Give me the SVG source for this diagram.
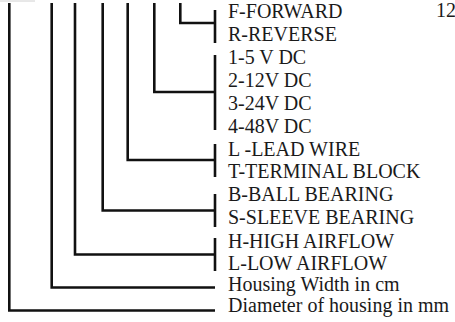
<svg xmlns="http://www.w3.org/2000/svg" width="455" height="322" viewBox="0 0 455 322">
<style>
.ln{fill:none;stroke:#111;stroke-width:2.6;stroke-linejoin:miter;stroke-linecap:butt}
.t{font-family:"Liberation Serif","Times New Roman",serif;font-size:20px;fill:#1a1a1a}
</style>
<rect width="455" height="322" fill="#fff"/>
<line x1="0" y1="1" x2="35" y2="1" stroke="#d0d0d0" stroke-width="1"/>
<g id="connectors" class="ln">
<polyline points="180.3,3 180.3,23 215,23"/>
<line x1="215" y1="10" x2="215" y2="43"/>
<polyline points="154.3,3 154.3,92 215,92"/>
<line x1="215" y1="55" x2="215" y2="130"/>
<polyline points="127.7,3 127.7,160 215,160"/>
<line x1="215" y1="144" x2="215" y2="177"/>
<polyline points="102.7,3 102.7,210.5 215,210.5"/>
<line x1="215" y1="194" x2="215" y2="227"/>
<polyline points="75,3 75,254.5 215,254.5"/>
<line x1="215" y1="238" x2="215" y2="271"/>
<polyline points="51.7,3 51.7,287.5 215,287.5"/>
<polyline points="9.3,3 9.3,310.5 215,310.5"/>
</g>
<g id="direction">
<text class="t" x="228" y="18">F-FORWARD</text>
<text class="t" x="228" y="41">R-REVERSE</text>
</g>
<g id="voltage">
<text class="t" x="228" y="64">1-5 V DC</text>
<text class="t" x="228" y="87">2-12V DC</text>
<text class="t" x="228" y="110">3-24V DC</text>
<text class="t" x="228" y="133">4-48V DC</text>
</g>
<g id="connection">
<text class="t" x="228" y="156">L -LEAD WIRE</text>
<text class="t" x="228" y="178">T-TERMINAL BLOCK</text>
</g>
<g id="bearing">
<text class="t" x="228" y="201">B-BALL BEARING</text>
<text class="t" x="228" y="224">S-SLEEVE BEARING</text>
</g>
<g id="airflow">
<text class="t" x="228" y="248">H-HIGH AIRFLOW</text>
<text class="t" x="228" y="270">L-LOW AIRFLOW</text>
</g>
<g id="width">
<text class="t" x="228" y="291">Housing Width in cm</text>
</g>
<g id="diameter">
<text class="t" x="228" y="312">Diameter of housing in mm</text>
</g>
<g id="corner">
<text class="t" x="436" y="17" font-size="18">12</text>
</g>
</svg>
